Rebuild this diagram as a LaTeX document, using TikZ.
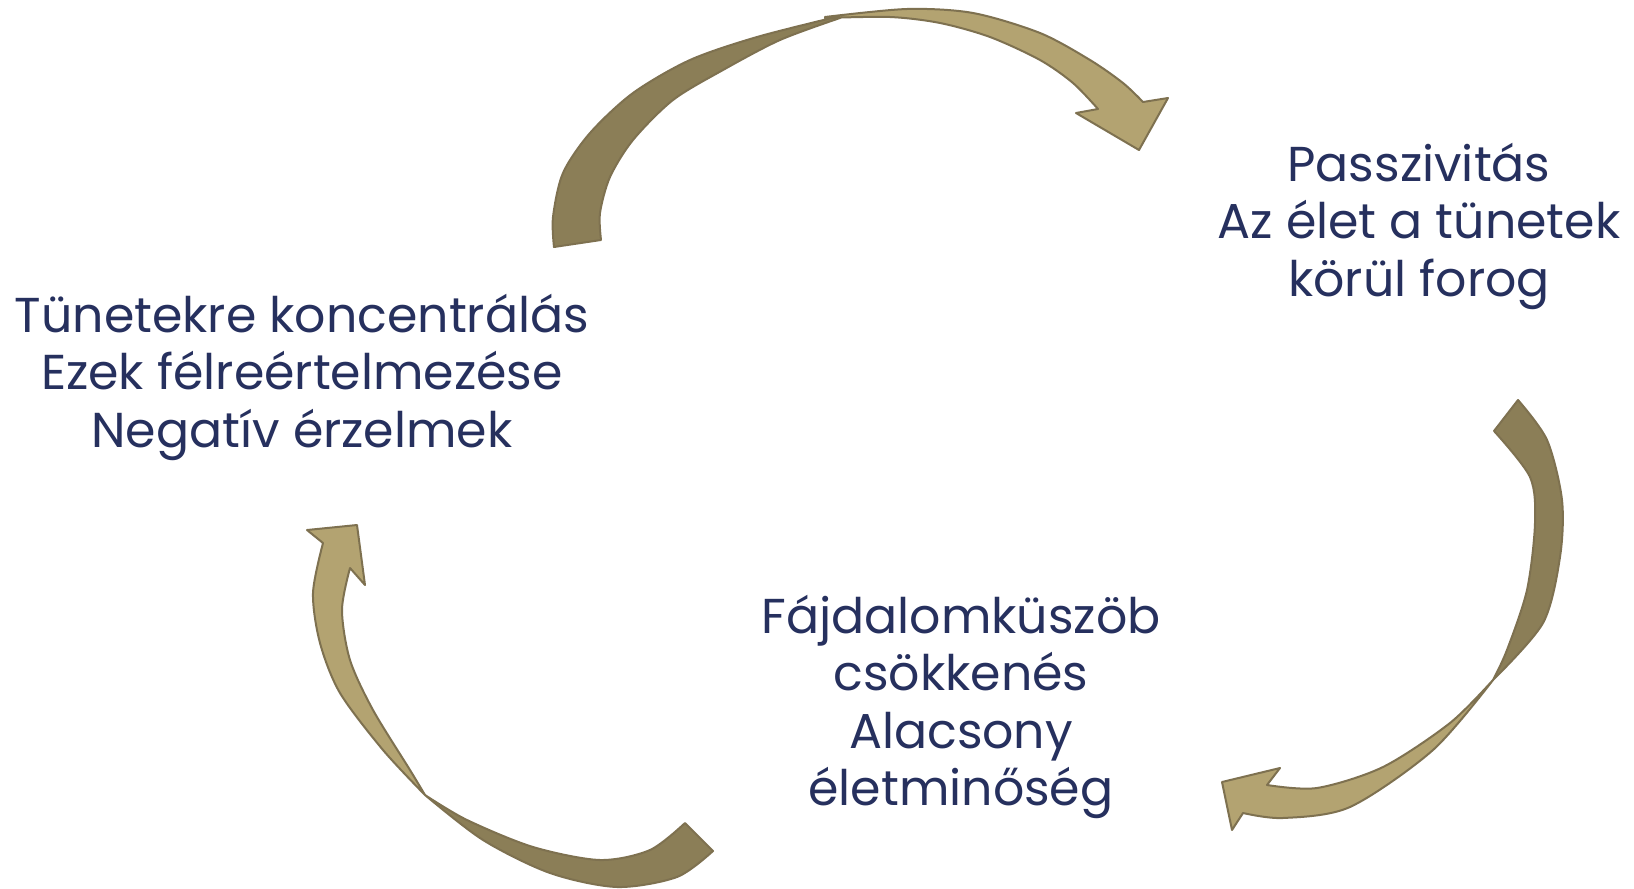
\documentclass[tikz,border=0pt]{standalone}
\usepackage{fontspec}
\setmainfont{Poppins}
\definecolor{txtc}{HTML}{26305E}
\definecolor{darkr}{HTML}{8B7E57}
\definecolor{lightr}{HTML}{B3A371}
\definecolor{edgec}{HTML}{7E7150}
\begin{document}
\begin{tikzpicture}[x=1pt,y=-1pt,
  txt/.style={text=txtc, align=center, font=\fontsize{49}{57.5}\selectfont, inner sep=0pt},
  back/.style={fill=darkr, draw=edgec, line width=2pt, line join=round},
  front/.style={fill=lightr, draw=edgec, line width=2pt, line join=round}]
\useasboundingbox[fill=white] (0,0) rectangle (1634,889);

% top arrow
\filldraw[back] plot[smooth] coordinates {(554,247) (553,217) (563,173) (590,133) (633,93) (690,60) (757,37) (840,16)}
  -- plot[smooth] coordinates {(840,18) (780,40) (723,70) (673,100) (633,140) (610,177) (600,213) (601,240)} -- cycle;
\filldraw[front] plot[smooth] coordinates {(825,17) (907,9) (973,13) (1040,33) (1090,60) (1123,83) (1143,102)}
  -- (1168,98) -- (1139,150) -- (1076,113) -- (1098,109)
  -- plot[smooth] coordinates {(1098,109) (1073,83) (1040,60) (990,37) (940,23) (890,17) (825,18)} -- cycle;

% right arrow
\filldraw[back] plot[smooth] coordinates {(1518,400) (1547,440) (1562,500) (1560,557) (1543,623) (1493,680)}
  -- plot[smooth] coordinates {(1493,680) (1507,650) (1527,590) (1535,523) (1530,477) (1494,431)} -- cycle;
\filldraw[front] plot[smooth] coordinates {(1493,680) (1433,750) (1350,807) (1283,818) (1243,813)}
  -- (1232,830) -- (1222,782) -- (1280,768) -- (1267,785)
  -- plot[smooth] coordinates {(1267,785) (1317,788) (1383,767) (1450,723) (1493,680)} -- cycle;

% bottom-left arrow
\filldraw[back] plot[smooth] coordinates {(713,851) (677,877) (617,887) (550,873) (483,840) (425,795)}
  -- plot[smooth] coordinates {(425,795) (467,820) (533,847) (600,860) (650,850) (685,823)} -- cycle;
\filldraw[front] plot[smooth] coordinates {(425,795) (383,750) (340,693) (320,643) (313,593) (323,543)}
  -- (307,530) -- (357,525) -- (365,585) -- (350,568)
  -- plot[smooth] coordinates {(350,568) (342,610) (350,660) (373,710) (410,770) (425,795)} -- cycle;

\node[txt] (left) at (302,377) {Tünetekre koncentrálás\\Ezek félreértelmezése\\Negatív érzelmek};
\node[txt] (right) at (1419,226) {Passzivitás\\Az élet a tünetek\\körül forog};
\node[txt] (bottom) at (961,707) {Fájdalomküszöb\\csökkenés\\Alacsony\\életminőség};
\end{tikzpicture}
\end{document}
